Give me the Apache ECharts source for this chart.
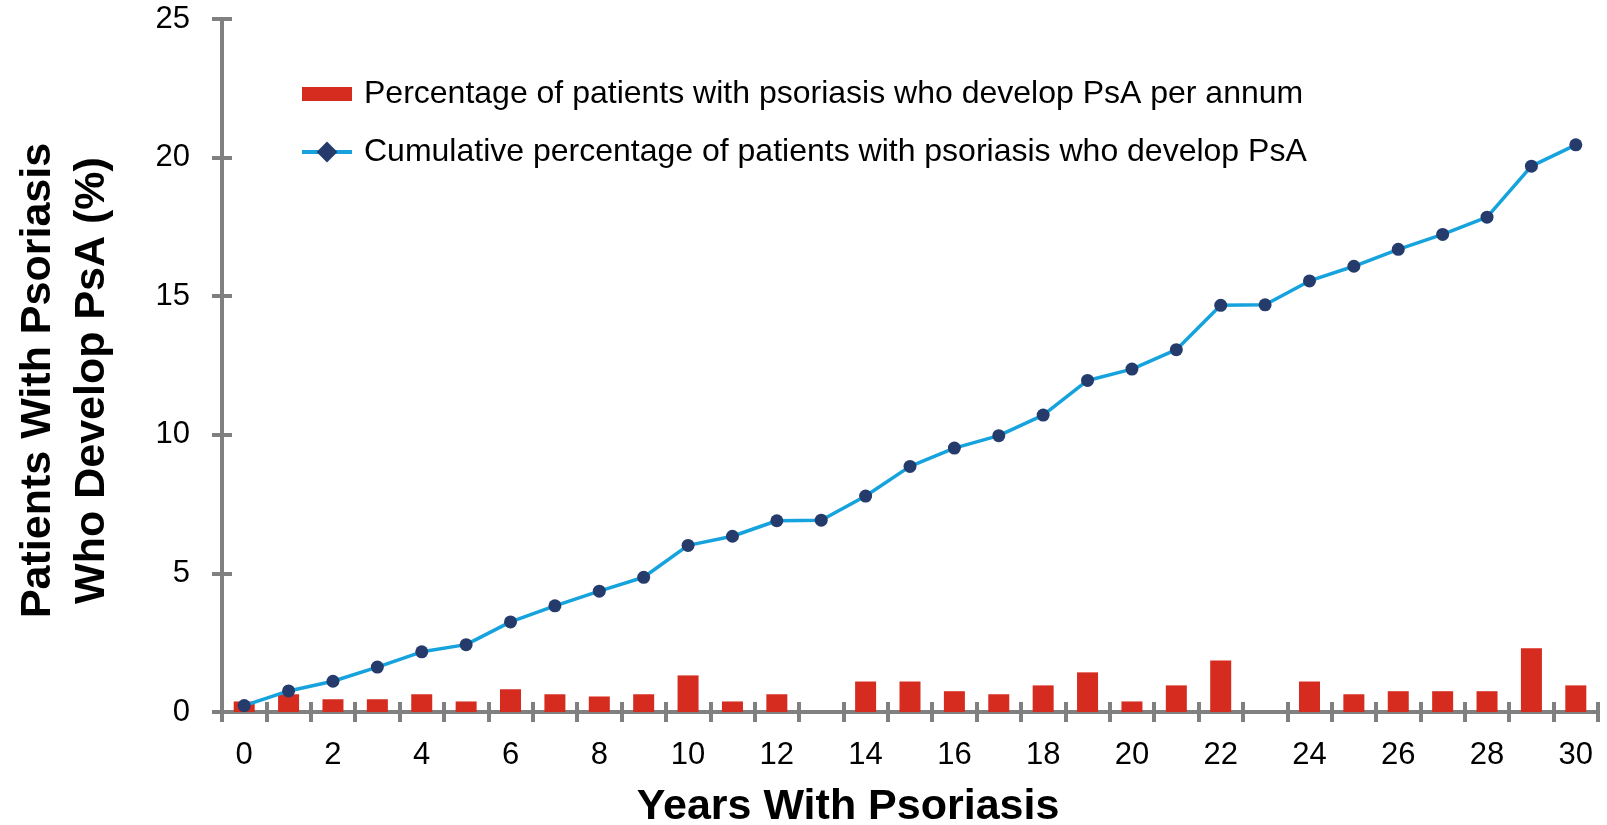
<!DOCTYPE html>
<html>
<head>
<meta charset="utf-8">
<title>PsA in psoriasis</title>
<script src="https://cdn.jsdelivr.net/npm/echarts@6/dist/echarts.min.js"></script>
<style>
    html, body { margin: 0; padding: 0; background: #fff; }
    #chart { width: 1607px; height: 825px; }
</style>
</head>
<body>
<div id="chart"></div>
<script>
let years = []
for (let i = 0; i <= 30; i++) years.push(String(i))

// % per annum (red bars)
let perAnnum = [0.38, 0.64, 0.46, 0.46, 0.64, 0.38, 0.82, 0.64, 0.56, 0.64,
    1.32, 0.38, 0.64, 0, 1.1, 1.1, 0.75, 0.64, 0.96, 1.43,
    0.38, 0.96, 1.86, 0, 1.1, 0.64, 0.75, 0.75, 0.75, 2.3, 0.96]
// cumulative % (blue line)
let cumulative = [0.23, 0.76, 1.11, 1.62, 2.17, 2.43, 3.25, 3.83, 4.36, 4.86,
    6.01, 6.34, 6.9, 6.92, 7.79, 8.86, 9.52, 9.97, 10.71, 11.96,
    12.37, 13.07, 14.67, 14.69, 15.55, 16.08, 16.69, 17.23, 17.85, 19.69, 20.46]

let barName = 'Percentage of patients with psoriasis who develop PsA per annum'
let lineName = 'Cumulative percentage of patients with psoriasis who develop PsA'

let red = '#d62b1f', blue = '#16a3dd', navy = '#243b6b', gray = '#808080'
let font = '"Liberation Sans", Arial, sans-serif'

let chart = echarts.init(document.getElementById('chart'))
let option = {
    animation: false,
    textStyle: {fontFamily: font},
    grid: {left: 222, right: 9, top: 19, bottom: 113, outerBoundsMode: 'none'},
    legend: {
        orient: 'vertical',
        left: 295,
        top: 71,
        itemWidth: 50,
        itemHeight: 26,
        itemGap: 22,
        selectedMode: false,
        textStyle: {fontSize: 32, lineHeight: 36, color: '#000', fontFamily: font, padding: [0, 0, 0, 7]},
        data: [
            {name: barName, icon: 'path://M0,0h50v14h-50z'},
            {name: lineName, lineStyle: {width: 4}}
        ]
    },
    xAxis: [{
        type: 'category',
        data: years,
        boundaryGap: true,
        name: 'Years With Psoriasis',
        nameLocation: 'middle',
        nameGap: 74,
        nameTextStyle: {fontSize: 43, fontWeight: 'bold', color: '#000', padding: [0, 124, 0, 0]},
        axisLine: {lineStyle: {color: gray, width: 4}},
        axisTick: {show: true, interval: 0, length: 10, lineStyle: {color: gray, width: 4}},
        axisLabel: {interval: 1, fontSize: 31, color: '#000', margin: 28}
    }, {
        // inner half of the crossing ticks
        type: 'category',
        data: years,
        position: 'bottom',
        axisLine: {show: false},
        axisTick: {show: true, inside: true, interval: 0, length: 10, lineStyle: {color: gray, width: 4}},
        axisLabel: {show: false}
    }],
    yAxis: [{
        type: 'value',
        min: 0,
        max: 25,
        interval: 5,
        name: 'Patients With Psoriasis\nWho Develop PsA (%)',
        nameLocation: 'middle',
        nameGap: 103,
        nameTextStyle: {fontSize: 43, fontWeight: 'bold', color: '#000', lineHeight: 54, padding: [0, 30, 0, 0]},
        splitLine: {show: false},
        axisLine: {show: true, lineStyle: {color: gray, width: 4}},
        axisTick: {show: true, length: 10, lineStyle: {color: gray, width: 4}},
        axisLabel: {fontSize: 31, color: '#000', margin: 32}
    }, {
        type: 'value',
        min: 0,
        max: 25,
        interval: 5,
        position: 'left',
        splitLine: {show: false},
        axisLine: {show: false},
        axisTick: {show: true, inside: true, length: 10, lineStyle: {color: gray, width: 4}},
        axisLabel: {show: false}
    }],
    series: [{
        name: barName,
        type: 'bar',
        data: perAnnum,
        barWidth: 21,
        itemStyle: {color: red}
    }, {
        // empty series only to give the legend its line + diamond icon
        name: lineName,
        type: 'line',
        data: [],
        symbol: 'diamond',
        lineStyle: {color: blue, width: 4},
        itemStyle: {color: navy}
    }, {
        name: lineName,
        type: 'line',
        data: cumulative,
        symbol: 'circle',
        symbolSize: 13,
        showAllSymbol: true,
        lineStyle: {color: blue, width: 3.5},
        itemStyle: {color: navy},
        z: 3
    }]
}
chart.setOption(option)
</script>
</body>
</html>
